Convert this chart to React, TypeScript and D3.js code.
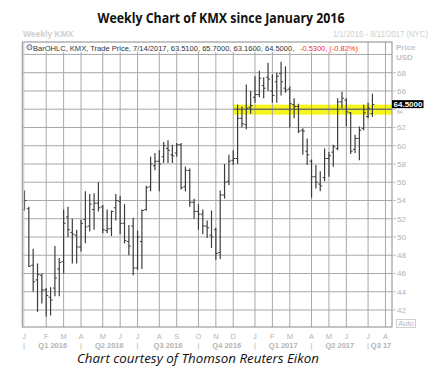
import React from "react";
import * as d3 from "d3";

const opens = [53.0,53.1,46.9,45.3,45.8,44.2,43.4,44.4,46.5,47.3, 52.2,50.5,50.2,48.9,51.9,51.2,53.0,53.7,53.3,50.7, 50.9,53.2,53.9,51.5,49.5,51.2,46.6,49.5,53.0,55.5, 57.8,58.3,58.8,59.7,59.0,59.2,60.1,55.5,57.3,53.8, 52.8,52.5,51.2,50.2,50.8,48.3,54.6,56.1,58.4,58.6, 63.0,62.3,64.2,65.3,65.6,66.6,67.5,66.0,67.0,67.9, 66.3,66.2,64.5,64.3,61.7,59.4,58.3,56.6,55.8,56.5, 58.6,59.3,59.7,64.8,65.0,63.6,59.6,60.8,61.9,63.2, 63.51];
const highs = [55.1,53.3,48.7,47.1,46.0,44.4,44.5,49.0,47.7,53.0, 53.3,52.0,50.8,51.9,55.0,54.7,54.8,56.0,53.5,53.0, 52.9,54.7,54.5,53.6,51.3,52.1,50.7,53.0,55.6,58.8, 59.2,59.5,60.4,60.6,60.1,60.3,60.3,57.7,57.5,54.2, 53.6,53.0,51.8,52.9,51.0,55.1,58.0,59.0,59.5,64.5, 64.3,66.7,66.0,67.6,68.2,67.5,69.1,67.8,68.0,69.2, 68.7,66.5,65.2,64.6,61.9,60.8,58.5,57.9,57.2,59.7, 59.3,60.1,65.2,65.9,65.2,63.7,61.2,62.1,64.5,64.7, 65.70];
const lows = [52.9,46.7,44.0,41.8,42.7,41.3,41.4,43.5,43.5,46.0, 50.0,47.1,47.1,48.4,49.3,50.6,50.8,52.8,50.4,50.4, 50.1,51.8,50.3,49.3,48.0,45.8,46.4,46.5,52.9,55.0, 57.3,55.0,58.1,58.1,58.1,58.8,55.2,55.0,53.3,52.0, 50.8,50.3,49.9,48.8,47.5,47.6,54.2,55.7,57.9,58.0, 62.0,61.8,63.5,64.7,65.3,65.2,66.0,64.7,64.7,65.5, 65.8,62.0,63.0,61.4,59.0,57.9,54.3,55.3,55.0,56.1, 56.6,57.7,59.5,64.1,62.1,59.1,59.2,58.4,61.7,63.0, 63.16];
const closes = [54.0,46.8,45.1,45.9,44.2,43.6,43.1,45.5,47.2,51.5, 50.8,50.3,48.9,51.5,51.1,53.6,53.7,53.2,50.8,50.9, 52.8,54.0,51.5,49.6,49.0,46.6,50.0,52.9,55.4,58.0, 58.3,58.0,60.0,59.5,58.9,60.1,55.4,57.3,53.8,52.8, 52.5,51.2,51.0,50.0,48.2,54.6,56.0,58.3,58.6,63.0, 62.4,64.1,64.4,65.6,67.4,66.3,67.3,65.5,67.6,67.0, 66.1,64.6,64.3,61.6,61.6,59.0,56.6,56.0,55.6,58.6, 58.9,59.9,64.8,65.2,63.7,59.4,60.8,61.7,63.6,64.1, 64.50];

const monthLabels = ["J","F","M","A","M","J","J","A","S","O","N","D","J","F","M","A","M","J","J","A"];
const monthWeeks = [0,5,9,13,18,22,26,31,35,40,44,48,53,57,61,66,70,74,79,83];
const quarterLabels = ["Q1 2016","Q2 2016","Q3 2016","Q4 2016","Q1 2017","Q2 2017","Q3 17"];
const quarterWeeks = [0,13,26,40,53,66,79];
const priceTicks = [42,44,46,48,50,52,54,56,58,60,62,64,66,68];
const gridPrices = [42,44,46,48,50,52,54,56,58,60,62,64,66,68,70];
const bandStartWeek = 48;
const bandLow = 63.4;
const bandHigh = 64.5;
const bandLine = 64;
const lastPrice = 64.5;
const legendMain = "BarOHLC, KMX, Trade Price, 7/14/2017, 63.5100, 65.7000, 63.1600, 64.5000,";
const legendChange = "-0.5300, (-0.82%)";

const W = 442, H = 376;
const frameL = 22.3, frameR = 392, frameT = 42, frameB = 327;
const sans = "'Liberation Sans', Arial, sans-serif";

function fitSize(text: string, target: number, base: number) {
  try {
    const ctx = document.createElement("canvas").getContext("2d");
    if (!ctx) return base;
    ctx.font = `${base}px 'Liberation Sans', Arial, sans-serif`;
    const w = ctx.measureText(text).width;
    return w > 0 ? (base * target) / w : base;
  } catch (e) {
    return base;
  }
}

export default function App() {
  const x = d3.scaleLinear().domain([-0.5, 84.5]).range([frameL, frameR]);
  const y = d3.scaleLinear().domain([42, 68]).range([310, 72.7]);
  const grayTxt = "#b3b3b3";
  const qEdges = [...quarterWeeks, 84.5];
  const mainSize = fitSize(legendMain, 262, 8.5);
  const chgSize = fitSize(legendChange, 58, 8.5);
  return (
    <svg width={W} height={H} style={{ position: "absolute", left: 0, top: 0, background: "#fff" }}>
      <rect x={0} y={0} width={W} height={H} fill="#fff" />
      <text x={221} y={23} textAnchor="middle" fontFamily="'Open Sans', sans-serif" fontWeight="bold" fontSize={15} textLength={247} lengthAdjust="spacingAndGlyphs" fill="#111">Weekly Chart of KMX since January 2016</text>
      <text x={23} y={37} fontFamily={sans} fontWeight="bold" fontSize={8.5} fill="#cfcfcf">Weekly KMX</text>
      <text x={428} y={37} textAnchor="end" fontFamily={sans} fontSize={8.5} fill="#cfcfcf" textLength={95} lengthAdjust="spacingAndGlyphs">1/1/2016 - 8/11/2017 (NYC)</text>

      {/* yellow band */}
      <rect x={x(bandStartWeek)} y={y(bandHigh)} width={frameR - x(bandStartWeek)} height={y(bandLow) - y(bandHigh)} fill="#f6f51c" />

      {/* grid */}
      {gridPrices.map((p) => (
        <line key={"h" + p} x1={frameL} x2={frameR} y1={y(p)} y2={y(p)} stroke="#a8a8a8" strokeWidth={1} />
      ))}
      {monthWeeks.filter((w) => w > 0).map((w) => (
        <line key={"v" + w} x1={x(w)} x2={x(w)} y1={frameT} y2={frameB} stroke="#a8a8a8" strokeWidth={1} />
      ))}
      <line x1={x(bandStartWeek)} x2={frameR} y1={y(bandLine)} y2={y(bandLine)} stroke="#555" strokeWidth={1} />

      {/* legend strip */}
      <rect x={frameL + 1} y={frameT + 0.5} width={340} height={9.5} fill="#fff" />
      <circle cx={29.5} cy={47.2} r={2.6} fill="#dde" stroke="#556" strokeWidth={0.8} />
      <text x={33} y={50.5} fontFamily={sans} fontSize={mainSize} fill="#333">{legendMain}</text>
      <text x={300} y={50.5} fontFamily={sans} fontSize={chgSize} fill="#f03030">{legendChange}</text>

      {/* bars */}
      {opens.map((o, i) => {
        const cx = x(i);
        return (
          <g key={"b" + i} stroke="#3c3c3c">
            <line x1={cx} x2={cx} y1={y(highs[i])} y2={y(lows[i])} strokeWidth={1.2} />
            <line x1={cx - 2} x2={cx} y1={y(o)} y2={y(o)} strokeWidth={1} />
            <line x1={cx} x2={cx + 2} y1={y(closes[i])} y2={y(closes[i])} strokeWidth={1} />
          </g>
        );
      })}

      {/* frame */}
      <rect x={frameL} y={frameT} width={frameR - frameL} height={frameB - frameT} fill="none" stroke="#8a8a8a" strokeWidth={1} />
      <line x1={frameL + 1.5} x2={frameL + 1.5} y1={frameT} y2={frameB} stroke="#c8c8c8" strokeWidth={1} />

      {/* right axis */}
      <text x={396} y={49.5} fontFamily={sans} fontWeight="bold" fontSize={8} fill="#c4c4c4">Price</text>
      <text x={396} y={59.5} fontFamily={sans} fontWeight="bold" fontSize={8} fill="#c4c4c4">USD</text>
      {priceTicks.map((p) => (
        <g key={"t" + p}>
          <line x1={frameR} x2={frameR + 4} y1={y(p)} y2={y(p)} stroke="#c0c0c0" />
          {p !== 64 && <text x={397} y={y(p) + 3} fontFamily={sans} fontSize={8} fill={grayTxt}>{p}</text>}
        </g>
      ))}
      <rect x={frameR} y={y(lastPrice) - 4.5} width={31.5} height={8} fill="#000" />
      <text x={frameR + 16} y={y(lastPrice) + 2.5} textAnchor="middle" fontFamily={sans} fontWeight="bold" fontSize={8} fill="#fff">64.5000</text>
      <text x={397} y={y(64) + 5} fontFamily={sans} fontSize={5} fill={grayTxt}>64</text>
      <rect x={396.5} y={319.5} width={19} height={8} fill="#fff" stroke="#d0d0d0" />
      <text x={406} y={326} textAnchor="middle" fontFamily={sans} fontSize={7.5} fill="#b8b8b8">Auto</text>

      {/* bottom axis */}
      {monthWeeks.map((w, i) => (
        <text key={"m" + i} x={w === 0 ? 24 : x(w)} y={339} textAnchor="middle" fontFamily={sans} fontSize={7.5} fill={grayTxt}>{monthLabels[i]}</text>
      ))}
      {quarterWeeks.map((w, i) => (
        <g key={"q" + i}>
          <text x={w === 0 ? 24 : x(w)} y={347.5} textAnchor="middle" fontFamily={sans} fontSize={7.5} fill={grayTxt}>|</text>
          <text x={(x(qEdges[i]) + x(qEdges[i + 1])) / 2 + (i === 6 ? 1 : 0)} y={347.5} textAnchor="middle" fontFamily={sans} fontWeight="bold" fontSize={7.5} fill={grayTxt}>{quarterLabels[i]}</text>
        </g>
      ))}

      <text x={198} y={363} textAnchor="middle" fontFamily="'Open Sans', sans-serif" fontStyle="italic" fontSize={13.5} textLength={242} lengthAdjust="spacingAndGlyphs" fill="#111">Chart courtesy of Thomson Reuters Eikon</text>
    </svg>
  );
}
